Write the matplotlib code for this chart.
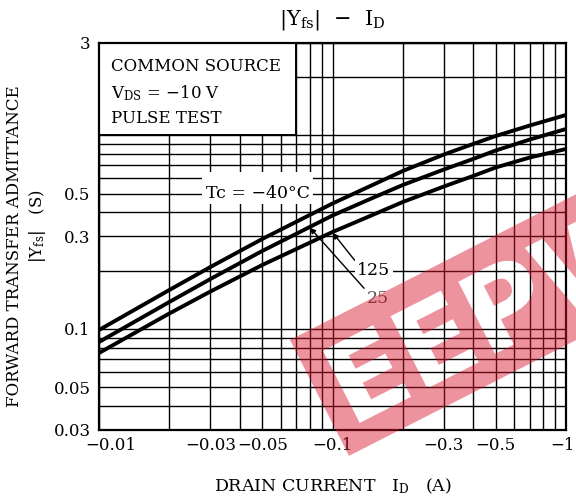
import matplotlib
matplotlib.use('Agg')
import matplotlib.pyplot as plt
import matplotlib.transforms as mtransforms
from matplotlib.patches import Rectangle, PathPatch
from matplotlib.textpath import TextPath
from matplotlib.font_manager import FontProperties
from matplotlib.path import Path
import numpy as np

# drain current (A) and |Yfs| (S)
drain_current = [-0.01, -0.02, -0.03, -0.05, -0.1, -0.15, -0.2, -0.3, -0.4, -0.5, -0.7, -1.0]
yfs_m40 = [0.0986, 0.1587, 0.2087, 0.2912, 0.4443, 0.5571, 0.6542, 0.7959, 0.9021, 0.9919, 1.124, 1.274]
yfs_25 = [0.0855, 0.1376, 0.1809, 0.2525, 0.3852, 0.4772, 0.5538, 0.6660, 0.7545, 0.8348, 0.9514, 1.078]
yfs_125 = [0.0750, 0.1200, 0.1559, 0.2137, 0.3165, 0.3898, 0.4523, 0.5440, 0.6164, 0.6819, 0.7680, 0.8499]

x_ticks = [-0.01, -0.03, -0.05, -0.1, -0.3, -0.5, -1]
x_tick_labels = ['\u22120.01', '\u22120.03', '\u22120.05', '\u22120.1', '\u22120.3', '\u22120.5', '\u22121']
y_ticks = [0.03, 0.05, 0.1, 0.3, 0.5, 3]
y_tick_labels = ['0.03', '0.05', '0.1', '0.3', '0.5', '3']

plt.rcParams['font.family'] = ['DejaVu Serif']
plt.rcParams['mathtext.fontset'] = 'dejavuserif'

fig = plt.figure(figsize=(5.76, 4.99), dpi=100)
ax = fig.add_axes([99 / 576, 1 - 430 / 499, 467 / 576, 387 / 499])
ax.set_xscale('log')
ax.set_yscale('log')
ax.set_xlim(0.01, 1)
ax.set_ylim(0.03, 3)

# full log grid
x_grid = [m * 10.0 ** e for e in (-2, -1) for m in range(1, 10)] + [1.0]
y_grid = [m * 10.0 ** e for e in (-2, -1, 0) for m in range(1, 10)]
y_grid = [v for v in y_grid if 0.03 <= v <= 3]
ax.set_xticks([-v for v in x_ticks])
ax.set_xticklabels(x_tick_labels)
ax.set_xticks(x_grid, minor=True)
ax.set_xticklabels([], minor=True)
ax.set_yticks(y_ticks)
ax.set_yticklabels(y_tick_labels)
ax.set_yticks(y_grid, minor=True)
ax.set_yticklabels([], minor=True)
ax.grid(True, which='both', color='black', lw=1.0)
ax.tick_params(which='both', length=0, labelsize=12, colors='black')
ax.tick_params(axis='x', pad=5)
ax.tick_params(axis='y', pad=6)
for s in ax.spines.values():
    s.set_linewidth(1.6)

# nudge the end labels like the datasheet does
xlabs = ax.get_xticklabels()
xlabs[0].set_transform(xlabs[0].get_transform()
                       + mtransforms.ScaledTranslation(12 / 100, 0, fig.dpi_scale_trans))
xlabs[-1].set_transform(xlabs[-1].get_transform()
                        + mtransforms.ScaledTranslation(-4 / 100, 0, fig.dpi_scale_trans))

ia = -np.array(drain_current)
for ys in (yfs_m40, yfs_25, yfs_125):
    ax.plot(ia, ys, color='black', lw=2.8, zorder=3, solid_joinstyle='round')

# condition box in the upper left corner
ax.add_patch(Rectangle((0.01, 1.0), 0.06, 2.0, facecolor='white', edgecolor='black',
                       lw=1.4, zorder=2.5))
ax.text(0.01126, 2.27, 'COMMON SOURCE', fontsize=12, va='center', zorder=4)
ax.text(0.01126, 1.66, 'V$_{\\mathrm{DS}}$ = \u221210 V', fontsize=12, va='center', zorder=4)
ax.text(0.01126, 1.215, 'PULSE TEST', fontsize=12, va='center', zorder=4)

# curve labels
ax.add_patch(Rectangle((0.0276, 0.4416), 0.0549, 0.2044, facecolor='white',
                       edgecolor='none', zorder=2.5))
ax.text(0.048, 0.5, 'Tc = \u221240\u00b0C', fontsize=12.5, ha='center', va='center', zorder=4)
ax.annotate('125', xy=(0.1005, 0.3127), xytext=(0.1506, 0.2), fontsize=12.5,
            ha='center', va='center', zorder=4,
            bbox=dict(facecolor='white', edgecolor='none', pad=2),
            arrowprops=dict(arrowstyle='-|>', color='black', lw=1.0, mutation_scale=8,
                            relpos=(0.0, 0.9), shrinkA=0, shrinkB=0))
ax.annotate('25', xy=(0.0801, 0.333), xytext=(0.1566, 0.144), fontsize=12.5,
            ha='center', va='center', color='#555555', zorder=4,
            arrowprops=dict(arrowstyle='-|>', color='black', lw=1.0, mutation_scale=8,
                            relpos=(0.0, 0.9), shrinkA=0, shrinkB=0))

ax.set_title('|Y$_{\\mathrm{fs}}$|  \u2212  I$_{\\mathrm{D}}$', fontsize=15, pad=13)
ax.set_xlabel('DRAIN CURRENT   I$_{\\mathrm{D}}$   (A)', fontsize=12.5, labelpad=16)
fig.text(15 / 576, 1 - 246 / 499, 'FORWARD TRANSFER ADMITTANCE', rotation=90,
         fontsize=12, ha='center', va='center')
fig.text(37 / 576, 1 - 226 / 499, '|Y$_{\\mathrm{fs}}$|   (S)', rotation=90,
         fontsize=12, ha='center', va='center')

# red watermark band, letters cut out
prop = FontProperties(family='DejaVu Sans', weight='bold')
tp = TextPath((0, 0), 'EEPW', size=1, prop=prop)
ext = tp.get_extents()
pad = 0.22
x0, y0 = ext.x0 - pad, ext.y0 - pad
x1, y1 = ext.x1 + pad, ext.y1 + pad
rect = Path([(x0, y0), (x1, y0), (x1, y1), (x0, y1), (x0, y0)],
            [Path.MOVETO, Path.LINETO, Path.LINETO, Path.LINETO, Path.CLOSEPOLY])
band = Path.make_compound_path(rect, tp)
scale = 130 / (y1 - y0)
tr = (mtransforms.Affine2D().translate(-x0, -y1).scale(scale)
      .rotate_deg(27).translate(290, 499 - 340))
wm = PathPatch(band, transform=tr, facecolor='#d8142c', edgecolor='none',
               alpha=0.46, zorder=10)
fig.add_artist(wm)

fig.savefig('out.png', dpi=100)
